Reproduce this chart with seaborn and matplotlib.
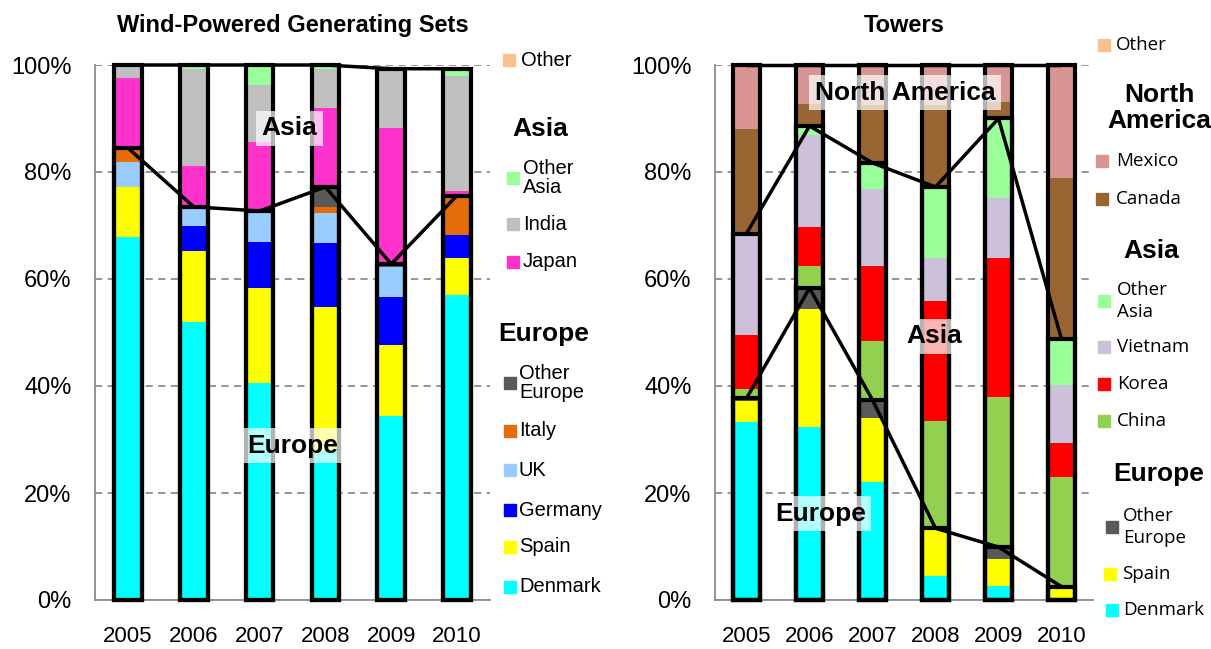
import numpy as np
import pandas as pd
import seaborn as sns
import matplotlib.pyplot as plt
from matplotlib.patches import Rectangle

years = ["2005", "2006", "2007", "2008", "2009", "2010"]

# Wind-Powered Generating Sets, share of imports (%)
gen_countries = ["Denmark", "Spain", "Germany", "UK", "Italy", "Other Europe",
                 "Japan", "India", "Other Asia"]
gen_denmark = [67.9, 52.0, 40.6, 27.8, 34.4, 57.1]
gen_spain = [9.3, 13.2, 17.7, 26.9, 13.2, 6.9]
gen_germany = [0.0, 4.7, 8.7, 12.1, 9.0, 4.2]
gen_uk = [4.7, 3.3, 5.5, 5.5, 5.6, 0.0]
gen_italy = [2.2, 0.0, 0.0, 1.2, 0.0, 7.0]
gen_other_europe = [0.4, 0.3, 0.2, 3.7, 0.6, 0.4]
gen_japan = [13.0, 7.7, 13.0, 14.8, 25.5, 0.8]
gen_india = [2.5, 18.0, 10.6, 7.2, 10.7, 21.5]
gen_other_asia = [0.0, 0.8, 3.7, 0.8, 0.3, 1.4]
gen_regions = [("Europe", "Other Europe"), ("Asia", "Other Asia")]

# Towers, share of imports (%)
tow_countries = ["Denmark", "Spain", "Other Europe", "China", "Korea", "Vietnam",
                 "Other Asia", "Canada", "Mexico"]
tow_denmark = [33.2, 32.4, 22.0, 4.4, 2.7, 0.0]
tow_spain = [4.0, 21.9, 12.0, 8.9, 5.0, 2.2]
tow_other_europe = [0.5, 4.0, 3.4, 0.1, 2.2, 0.3]
tow_china = [1.8, 4.1, 11.0, 20.0, 28.0, 20.5]
tow_korea = [10.1, 7.3, 14.0, 22.4, 26.1, 6.3]
tow_vietnam = [18.9, 17.2, 14.4, 8.2, 11.1, 10.8]
tow_other_asia = [0.0, 1.7, 4.9, 13.2, 14.9, 8.7]
tow_canada = [19.6, 4.2, 10.8, 15.3, 3.0, 30.1]
tow_mexico = [11.9, 7.2, 7.5, 7.5, 7.0, 21.1]
tow_regions = [("Europe", "Other Europe"), ("Asia", "Other Asia"),
               ("North America", "Mexico")]

colors = {
    "Denmark": "#00FFFF", "Spain": "#FFFF00", "Germany": "#0000FF",
    "UK": "#99CCFF", "Italy": "#E46C0A", "Other Europe": "#595959",
    "Japan": "#FF33CC", "India": "#BFBFBF", "Other Asia": "#99FF99",
    "China": "#92D050", "Korea": "#FF0000", "Vietnam": "#CCC0DA",
    "Canada": "#996633", "Mexico": "#D99594", "Other": "#FAC090",
}

W, H = 1211, 649
sns.set_theme(style="white")
plt.rcParams["font.family"] = ["Liberation Sans", "DejaVu Sans"]
plt.rcParams["text.color"] = "black"
plt.rcParams["xtick.labelcolor"] = "black"
plt.rcParams["ytick.labelcolor"] = "black"

fig = plt.figure(figsize=(W / 100, H / 100), dpi=100)
ax1 = fig.add_axes([95 / W, 49 / H, 395 / W, 535 / H])
ax2 = fig.add_axes([715 / W, 49 / H, 378 / W, 535 / H])

BAR_W = 0.42


def draw_panel(ax, countries, shares, regions, title):
    df = pd.DataFrame(shares, index=countries, columns=years)
    cum = df.cumsum()
    # stacked look: tallest cumulative bar first, lower ones painted over it
    for c in countries[::-1]:
        sns.barplot(x=years, y=cum.loc[c].values, color=colors[c], saturation=1,
                    width=BAR_W, linewidth=0, ax=ax, zorder=2)
    # black outline round each region block
    for reg, last in regions[::-1]:
        sns.barplot(x=years, y=cum.loc[last].values, color="black", fill=False,
                    width=BAR_W, linewidth=3, ax=ax, zorder=3)
    # series lines joining the region tops
    for reg, last in regions:
        ax.plot(np.arange(len(years)), cum.loc[last].values, color="black",
                lw=2.5, zorder=4, solid_capstyle="butt", clip_on=False)
    for p in ax.patches:
        p.set_clip_on(False)

    ax.set_xlim(-0.5, len(years) - 0.5)
    ax.set_ylim(0, 100)
    ax.set_yticks(range(0, 101, 20))
    ax.set_yticklabels([f"{v}%" for v in range(0, 101, 20)])
    ax.set_xticks(np.arange(-0.5, len(years), 1.0), minor=True)
    ax.tick_params(axis="x", which="major", length=0, pad=19, labelsize=16,
                   labelcolor="black")
    ax.tick_params(axis="x", which="minor", length=7, width=1.3,
                   color="#8c8c8c", direction="out")
    ax.tick_params(axis="y", length=10, width=1.3, color="#8c8c8c",
                   direction="inout", pad=12, labelsize=17, labelcolor="black")
    ax.yaxis.grid(True, linestyle=(0, (4, 3)), color="#8c8c8c", lw=1.3)
    ax.set_axisbelow(True)
    for s in ["top", "right"]:
        ax.spines[s].set_visible(False)
    for s in ["left", "bottom"]:
        ax.spines[s].set_color("#8c8c8c")
        ax.spines[s].set_linewidth(1.3)
    ax.set_xlabel("")
    ax.set_ylabel("")
    ax.set_title(title, fontsize=17, fontweight="bold", pad=24, color="black")


draw_panel(ax1, gen_countries,
           [gen_denmark, gen_spain, gen_germany, gen_uk, gen_italy,
            gen_other_europe, gen_japan, gen_india, gen_other_asia],
           gen_regions, "Wind-Powered Generating Sets")
draw_panel(ax2, tow_countries,
           [tow_denmark, tow_spain, tow_other_europe, tow_china, tow_korea,
            tow_vietnam, tow_other_asia, tow_canada, tow_mexico],
           tow_regions, "Towers")

box = dict(facecolor="white", alpha=0.7, edgecolor="none", pad=4)
lab = dict(fontsize=19, fontweight="bold", ha="center", va="center",
           bbox=box, zorder=6, color="black")
ax1.text(2.45, 88.2, "Asia", **lab)
ax1.text(2.5, 28.8, "Europe", **lab)
ax2.text(2.52, 94.8, "North America", **lab)
ax2.text(2.98, 49.3, "Asia", **lab)
ax2.text(1.17, 16.1, "Europe", **lab)


def px(x, y):
    return x / W, 1 - y / H


def swatch(x, y, color, size=12):
    fx, fy = px(x, y + size / 2)
    fig.add_artist(Rectangle((fx, fy), size / W, size / H, color=color,
                             transform=fig.transFigure))


def item(sx, tx, y, name, label=None, family="Liberation Sans", size=14.5,
         ls=1.0):
    swatch(sx, y, colors[name])
    fig.text(*px(tx, y), label or name, fontsize=size, va="center",
             ha="left", family=family, linespacing=ls, color="black")


def heading(x, y, text, ls=1.0):
    fig.text(*px(x, y), text, fontsize=19, fontweight="bold", ha="center",
             va="center", linespacing=ls, color="black")


# legend, left panel
item(503, 521, 60, "Other")
heading(540, 129, "Asia")
item(507, 523, 178, "Other Asia", "Other\nAsia")
item(507, 523, 224, "India")
item(507, 523, 262, "Japan")
heading(544, 334, "Europe")
item(504, 519, 383, "Other Europe", "Other\nEurope")
for y, n in zip([431, 470, 510, 547, 587],
                ["Italy", "UK", "Germany", "Spain", "Denmark"]):
    item(504, 519, y, n)

# legend, right panel
OS = dict(family="Open Sans", size=13.5)
item(1098, 1116, 45, "Other", **OS)
heading(1159, 108, "North\nAmerica", ls=1.15)
item(1096, 1116, 161, "Mexico", **OS)
item(1096, 1116, 199, "Canada", **OS)
heading(1151, 251, "Asia")
item(1098, 1117, 301, "Other Asia", "Other\nAsia", ls=1.35, **OS)
for y, n in zip([347, 384, 421], ["Vietnam", "Korea", "China"]):
    item(1098, 1117, y, n, **OS)
heading(1159, 474, "Europe")
item(1106, 1123, 527, "Other Europe", "Other\nEurope", ls=1.35, **OS)
item(1104, 1122, 574, "Spain", **OS)
item(1106, 1123, 610, "Denmark", **OS)

fig.savefig("out.png", dpi=100)
